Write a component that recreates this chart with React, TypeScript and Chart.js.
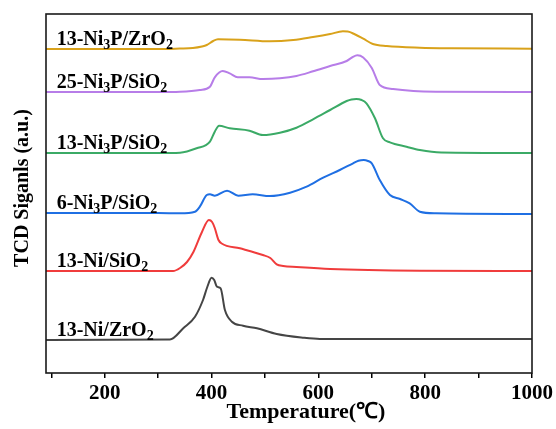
import React, { useEffect, useRef } from "react";
import { Chart, registerables } from "chart.js";

Chart.register(...registerables);

// Temperature (°C) sample points and TCD signal (a.u.) for each curve
const tGoldZr = [90, 300, 340, 365, 382, 391, 403, 412, 453, 509, 553, 590, 622, 646, 655, 663, 684, 702, 728, 790, 850, 1000];
const sGoldZr = [324, 324, 324.5, 325, 326.5, 328, 332, 333.7, 333.3, 331.7, 333, 336, 339, 341.7, 341.5, 340, 334.3, 329, 327, 325.3, 324.7, 324.3];

const tP25Si = [90, 300, 341, 378, 397, 406, 421, 434, 449, 471, 496, 528, 559, 590, 622, 653, 663, 673, 684, 700, 715, 740, 778, 820, 1000];
const sP25Si = [281, 281, 281.3, 283, 286.3, 295.7, 302, 299.7, 295.7, 295.7, 294, 294.7, 297, 301.7, 307, 312, 315.5, 317.7, 315.5, 305, 288, 284, 282, 281.3, 281];

const tP13Si = [90, 300, 341, 372, 397, 406, 414, 434, 471, 496, 528, 559, 590, 622, 653, 662, 671, 681, 690, 706, 721, 734, 765, 790, 830, 1000];
const sP13Si = [220, 220, 220.3, 224.7, 231.3, 241.3, 247.3, 244.7, 242.3, 238, 240.3, 245.3, 253.7, 263, 272, 273.6, 274, 273, 269.7, 254.7, 234.7, 230.7, 226.3, 223, 220.5, 220];

const tP6Si = [90, 300, 341, 369, 378, 391, 397, 406, 429, 450, 477, 509, 547, 578, 609, 640, 665, 675, 685, 693, 700, 715, 734, 753, 771, 790, 820, 1000];
const sP6Si = [160, 160, 159.7, 161.3, 166.3, 178, 178.7, 177.3, 182.3, 177.3, 178.7, 177, 180.3, 186.3, 195.3, 203, 209.7, 212.3, 213, 212, 209.7, 193, 178, 174, 169.7, 161.3, 159.7, 159];

const tNiSi = [90, 328, 341, 354, 366, 382, 395, 401, 406, 413, 419, 453, 496, 510, 522, 534, 559, 622, 790, 1000];
const sNiSi = [102, 102, 105, 111, 121, 141, 153, 151, 145, 133, 129.5, 124.7, 118, 115, 108.7, 107, 106, 104, 102.3, 102];

const tNiZr = [90, 322, 347, 369, 384, 392, 400, 405, 410, 417, 425, 438, 459, 485, 522, 571, 603, 1000];
const sNiZr = [33, 33.5, 44.7, 56.3, 73, 86, 95.3, 93, 86.3, 84.7, 63, 51.3, 47.3, 44.7, 39, 35.3, 34, 34];

const xTickValues = [100, 200, 300, 400, 500, 600, 700, 800, 900, 1000];
const xMin = 90;
const xMax = 1000;
const labelT = 110;

type Part = [string, boolean];
const SERIES: { t: number[]; s: number[]; color: string; label: Part[] }[] = [
  { t: tGoldZr, s: sGoldZr, color: "#D9A21B", label: [["13-Ni", false], ["3", true], ["P/ZrO", false], ["2", true]] },
  { t: tP25Si, s: sP25Si, color: "#B77DE8", label: [["25-Ni", false], ["3", true], ["P/SiO", false], ["2", true]] },
  { t: tP13Si, s: sP13Si, color: "#3BAA66", label: [["13-Ni", false], ["3", true], ["P/SiO", false], ["2", true]] },
  { t: tP6Si, s: sP6Si, color: "#1F6FE3", label: [["6-Ni", false], ["3", true], ["P/SiO", false], ["2", true]] },
  { t: tNiSi, s: sNiSi, color: "#F03C3C", label: [["13-Ni/SiO", false], ["2", true]] },
  { t: tNiZr, s: sNiZr, color: "#454545", label: [["13-Ni/ZrO", false], ["2", true]] },
];

const SERIF = '"Liberation Serif", "Times New Roman", serif';

const decor = {
  id: "decor",
  afterDatasetsDraw(chart: any) {
    const { ctx, chartArea: a, scales } = chart;
    const x = scales.x;
    const y = scales.y;
    ctx.save();
    ctx.strokeStyle = "#1a1a1a";
    ctx.lineWidth = 1.6;
    ctx.strokeRect(a.left, a.top, a.right - a.left, a.bottom - a.top);

    ctx.fillStyle = "#000";
    ctx.textBaseline = "alphabetic";
    ctx.textAlign = "left";
    SERIES.forEach((sr) => {
      let px = x.getPixelForValue(labelT);
      const py = y.getPixelForValue(sr.s[0]) - 4;
      for (const [txt, sub] of sr.label) {
        ctx.font = sub ? `bold 14px ${SERIF}` : `bold 20px ${SERIF}`;
        ctx.fillText(txt, px, sub ? py + 4 : py);
        px += ctx.measureText(txt).width;
      }
    });

    // axis titles
    ctx.font = `bold 22px ${SERIF}`;
    ctx.textAlign = "center";
    ctx.fillText("Temperature(℃)", 306, 418);
    ctx.font = `bold 20px ${SERIF}`;
    ctx.translate(28, 188);
    ctx.rotate(-Math.PI / 2);
    ctx.fillText("TCD Siganls (a.u.)", 0, 0);
    ctx.restore();
  },
};

export default function App() {
  const ref = useRef<HTMLCanvasElement | null>(null);
  useEffect(() => {
    if (!ref.current) return;
    const chart = new Chart(ref.current, {
      type: "line",
      data: {
        datasets: SERIES.map((sr) => ({
          data: sr.t.map((t, i) => ({ x: t, y: sr.s[i] })),
          borderColor: sr.color,
          borderWidth: 2,
          pointRadius: 0,
          fill: false,
          cubicInterpolationMode: "monotone" as const,
        })),
      },
      options: {
        animation: false,
        responsive: false,
        devicePixelRatio: 1,
        layout: { padding: { left: 46, top: 14, right: 24, bottom: 0 } },
        plugins: { legend: { display: false }, tooltip: { enabled: false } },
        scales: {
          x: {
            type: "linear",
            min: xMin,
            max: xMax,
            afterBuildTicks: (s: any) => {
              s.ticks = xTickValues.map((v) => ({ value: v }));
            },
            afterFit: (s: any) => {
              s.height = 56;
            },
            grid: { display: true, drawOnChartArea: false, drawTicks: true, tickLength: 5, color: "#000", lineWidth: 1.5 },
            border: { display: false },
            ticks: {
              autoSkip: false,
              maxRotation: 0,
              padding: 3,
              color: "#000",
              font: { family: SERIF, size: 21, weight: "bold" },
              callback: (v: any) => (Number(v) % 200 === 0 ? String(v) : ""),
            },
          },
          y: { display: false, min: 0, max: 359 },
        },
      },
      plugins: [decor],
    });
    return () => chart.destroy();
  }, []);
  return (
    <div style={{ position: "fixed", left: 0, top: 0, width: 556, height: 429, background: "#fff" }}>
      <canvas ref={ref} width={556} height={429} />
    </div>
  );
}
